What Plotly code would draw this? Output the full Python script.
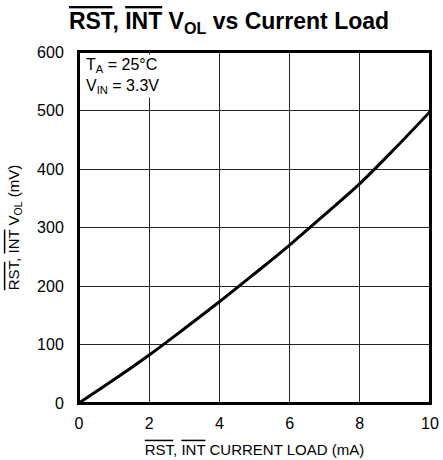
import plotly.graph_objects as go

current_ma = [0, 1, 2, 3, 4, 5, 6, 7, 8, 9, 10]
vol_mv = [0, 40, 82, 127, 173, 221, 270, 322, 375, 435, 498]
x_ticks = [0, 2, 4, 6, 8, 10]
y_ticks = [0, 100, 200, 300, 400, 500, 600]

FONT = "Liberation Sans, Arial, sans-serif"
OL = '<span style="text-decoration:overline">%s</span>'

W, H = 443, 460

fig = go.Figure()
fig.add_trace(go.Scatter(x=current_ma, y=vol_mv, mode="lines",
                         line=dict(color="black", width=3, shape="spline"),
                         showlegend=False, hoverinfo="skip", cliponaxis=False))

fig.update_layout(
    width=W, height=H,
    margin=dict(l=79, r=13, t=52, b=57, autoexpand=False),
    paper_bgcolor="white", plot_bgcolor="white",
    font=dict(family=FONT, color="black", size=16),
    title=dict(text="<b>" + OL % "RST" + ", " + OL % "INT" + " V<sub>OL</sub> vs Current Load</b>",
               x=229 / W, xanchor="center", y=1 - 21 / H, yanchor="middle", automargin=False,
               font=dict(family=FONT, size=23, color="black")),
    xaxis=dict(range=[0, 10], tickvals=x_ticks, ticktext=[str(v) for v in x_ticks],
               showgrid=True, gridcolor="#222", gridwidth=1,
               showline=True, linecolor="black", linewidth=2, mirror=True,
               ticks="", zeroline=False, tickfont=dict(size=16), automargin=False,
               ticklabelstandoff=5,
               title=dict(text=OL % "RST" + ", " + OL % "INT" + " CURRENT LOAD (mA)",
                          font=dict(size=15), standoff=13)),
    yaxis=dict(range=[0, 600], tickvals=y_ticks, ticktext=[str(v) for v in y_ticks],
               showgrid=True, gridcolor="#222", gridwidth=1,
               showline=True, linecolor="black", linewidth=2, mirror=True,
               ticks="", zeroline=False, tickfont=dict(size=16), automargin=False,
               ticklabelstandoff=10,
               title=dict(text=OL % "RST" + ", " + OL % "INT" + " V<sub>OL</sub> (mV)",
                          font=dict(size=15), standoff=14)),
)

# plot frame
fig.add_shape(type="rect", xref="paper", yref="paper", x0=0, y0=0, x1=1, y1=1,
              line=dict(color="black", width=2), fillcolor="rgba(0,0,0,0)", layer="above")

fig.add_annotation(x=0, y=1, xref="paper", yref="paper", xanchor="left", yanchor="top",
                   xshift=5, yshift=-2, align="left", showarrow=False,
                   text="T<sub>A</sub> = 25°C<br>V<sub>IN</sub> = 3.3V",
                   font=dict(size=16, color="black"), bgcolor="white")

fig.write_html("out.html",
               config={"displayModeBar": False},
               post_script="document.body.style.margin='0';document.body.style.overflow='hidden';")
